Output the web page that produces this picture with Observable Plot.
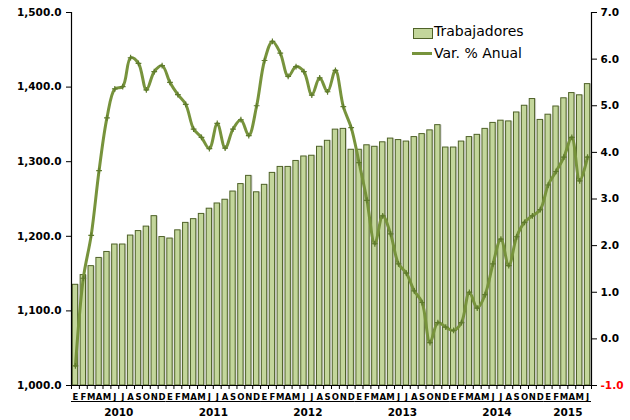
<!DOCTYPE html>
<html>
<head>
<meta charset="utf-8">
<script src="https://cdn.jsdelivr.net/npm/d3@7"></script>
<script src="https://cdn.jsdelivr.net/npm/@observablehq/plot@0.6"></script>
<style>
  body { margin: 0; background: #fff; }
  #wrap { position: relative; width: 630px; height: 420px; }
  #wrap svg { font-family: "DejaVu Sans", sans-serif; font-weight: bold; }
  .leg { position: absolute; font-family: "DejaVu Sans", sans-serif; font-size: 14px; color: #000; white-space: nowrap; }
</style>
</head>
<body>
<div id="wrap"></div>
<script>
// ---- data ----
const years = ["2010", "2011", "2012", "2013", "2014", "2015"];
const monthLetters = ["E", "F", "M", "A", "M", "J", "J", "A", "S", "O", "N", "D"];
const trabajadores = [
  1135, 1148, 1160, 1171, 1179, 1189, 1189, 1201, 1207, 1213, 1227, 1199,
  1197, 1208, 1218, 1223, 1230, 1237, 1244, 1249, 1260, 1270, 1281, 1259,
  1269, 1285, 1293, 1293, 1301, 1307, 1308, 1320, 1328, 1343, 1344, 1316,
  1316, 1322, 1320, 1326, 1331, 1329, 1327, 1333, 1337, 1342, 1349, 1319,
  1319, 1327, 1333, 1336, 1344, 1352, 1355, 1354, 1366, 1375, 1384, 1356,
  1363, 1374, 1385, 1392, 1389, 1404
];
const varAnual = [
  -0.58, 1.30, 2.22, 3.61, 4.74, 5.36, 5.41, 6.03, 5.91, 5.34, 5.73, 5.86,
  5.50, 5.24, 5.03, 4.50, 4.32, 4.08, 4.62, 4.09, 4.50, 4.70, 4.36, 5.00,
  5.97, 6.38, 6.13, 5.63, 5.84, 5.73, 5.23, 5.60, 5.30, 5.76, 4.98, 4.53,
  3.78, 2.97, 2.04, 2.64, 2.25, 1.61, 1.41, 1.03, 0.78, -0.08, 0.35, 0.25,
  0.18, 0.35, 1.00, 0.66, 0.95, 1.61, 2.14, 1.57, 2.19, 2.50, 2.64, 2.77,
  3.30, 3.59, 3.90, 4.32, 3.39, 3.90
];
const leftTicks = [1000, 1100, 1200, 1300, 1400, 1500];
const rightTicks = [-1, 0, 1, 2, 3, 4, 5, 6, 7];

// ---- derived tables ----
const leftDomain = [1000, 1500];
const rightDomain = [-1, 7];
const toLeft = v => leftDomain[0] + (v - rightDomain[0]) * (leftDomain[1] - leftDomain[0]) / (rightDomain[1] - rightDomain[0]);

const rows = trabajadores.map((t, i) => ({
  i, trab: t, v: varAnual[i],
  letter: monthLetters[i % 12], year: years[Math.floor(i / 12)]
}));
const groups = years.map(y => {
  const r = rows.filter(d => d.year === y);
  return { year: y, start: r[0].i, end: r[r.length - 1].i };
});
const n = rows.length;
const boundaries = d3.range(n + 1).map(k => k - 0.5);

const barFill = "#C3D69B", barStroke = "#4F6228", lineColor = "#77933C";

const chart = Plot.plot({
  width: 630, height: 420,
  marginLeft: 71, marginRight: 39, marginTop: 12, marginBottom: 35,
  x: { type: "linear", domain: [-0.5, n - 0.5], axis: null },
  y: { domain: leftDomain, axis: null },
  marks: [
    // bar shadows
    Plot.rect(rows, { x1: d => d.i - 0.34, x2: d => d.i + 0.34, y1: leftDomain[0], y2: "trab", fill: "#9a9a9a", fillOpacity: 0.45, dx: 1.5 }),
    Plot.rect(rows, { x1: d => d.i - 0.34, x2: d => d.i + 0.34, y1: leftDomain[0], y2: "trab", fill: barFill, stroke: barStroke, strokeWidth: 1 }),
    // axes lines
    Plot.ruleX([-0.5, n - 0.5], { stroke: "#000", strokeWidth: 1.2 }),
    Plot.ruleY([leftDomain[0]], { stroke: "#000", strokeWidth: 1.2 }),
    // left axis
    Plot.axisY({ anchor: "left", label: null, ticks: leftTicks, tickFormat: d3.format(",.1f"), tickSize: 5, tickPadding: 5, fontSize: 10.5 }),
    // right axis ticks + labels
    Plot.axisY({ anchor: "right", label: null, ticks: rightTicks.map(toLeft), tickFormat: () => "", tickSize: 5 }),
    Plot.text(rightTicks, { x: n - 0.5, y: toLeft, text: d => d.toFixed(1), dx: 9, textAnchor: "start", fontSize: 10.5, fill: d => d < 0 ? "#FF0000" : "#000" }),
    // x axis ticks
    Plot.axisX({ label: null, ticks: boundaries, tickFormat: () => "", tickSize: 4 }),
    // month letters
    Plot.text(rows, { x: "i", y: leftDomain[0], text: "letter", dy: 12, fontSize: 8.5, fill: "#000" }),
    // year underline
    Plot.ruleY(groups, { y: leftDomain[0], x1: d => d.start - 0.5, x2: d => d.end + 0.5, dy: 16, stroke: "#000", strokeWidth: 1 }),
    // year labels
    Plot.text(groups, { x: d => (d.start + d.end) / 2, y: leftDomain[0], text: "year", dy: 27, fontSize: 10.5, fill: "#000" }),
    // line
    Plot.line(rows, { x: "i", y: d => toLeft(d.v), curve: "catmull-rom", stroke: lineColor, strokeWidth: 3 }),
    Plot.dot(rows, { x: "i", y: d => toLeft(d.v), symbol: "plus", r: 2, stroke: "#5E7A2C", strokeWidth: 1.2 })
  ]
});

const wrap = document.getElementById("wrap");
wrap.appendChild(chart);

// legend (HTML overlay)
const leg = document.createElement("div");
leg.innerHTML = `
  <div style="position:absolute;left:413px;top:28px;width:18px;height:9px;background:${barFill};border:1px solid ${barStroke};"></div>
  <div class="leg" style="left:434px;top:23px;">Trabajadores</div>
  <div style="position:absolute;left:412px;top:52px;width:20px;height:3px;background:${lineColor};"></div>
  <div class="leg" style="left:434px;top:45px;">Var. % Anual</div>`;
wrap.appendChild(leg);
</script>
</body>
</html>
